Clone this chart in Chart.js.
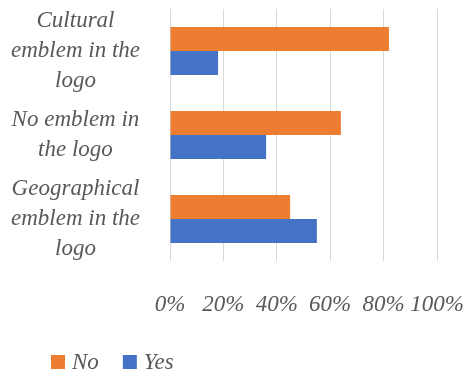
<!DOCTYPE html>
<html>
<head>
<meta charset="utf-8">
<script src="https://cdn.jsdelivr.net/npm/chart.js@4/dist/chart.umd.min.js"></script>
<style>
  html, body { margin: 0; padding: 0; background: #fff; }
  #wrap { width: 469px; height: 376px; }
</style>
</head>
<body>
<div id="wrap"><canvas id="chart" width="469" height="376"></canvas></div>
<script>
const categories = [
  ['Cultural', 'emblem in the', 'logo'],
  ['No emblem in', 'the logo'],
  ['Geographical', 'emblem in the', 'logo']
];
const seriesNames = ['No', 'Yes'];
const noValues = [82, 64, 45];
const yesValues = [18, 36, 55];
const xTicks = [0, 20, 40, 60, 80, 100];

const COLORS = { no: '#ED7D31', yes: '#4472C4', text: '#595959', grid: '#D9D9D9' };
const FONT = { family: 'Liberation Serif', style: 'italic', size: 23 };

// legend drawn by hand so it can sit where the original has it
const bottomLegend = {
  id: 'bottomLegend',
  afterDraw(chart) {
    const { ctx } = chart;
    const y = 362;
    let x = 51;
    ctx.save();
    ctx.font = `italic ${FONT.size}px "${FONT.family}"`;
    ctx.textBaseline = 'middle';
    chart.data.datasets.forEach((ds) => {
      ctx.fillStyle = ds.backgroundColor;
      ctx.fillRect(x, y - 7, 14, 14);
      ctx.fillStyle = COLORS.text;
      ctx.fillText(ds.label, x + 21, y + 1);
      x += 21 + ctx.measureText(ds.label).width + 24;
    });
    ctx.restore();
  }
};

new Chart(document.getElementById('chart'), {
  type: 'bar',
  plugins: [bottomLegend],
  data: {
    labels: categories,
    datasets: [
      { label: seriesNames[0], data: noValues, backgroundColor: COLORS.no },
      { label: seriesNames[1], data: yesValues, backgroundColor: COLORS.yes }
    ]
  },
  options: {
    indexAxis: 'y',
    responsive: false,
    animation: false,
    layout: { padding: { top: 9, right: 32, bottom: 55, left: 0 } },
    datasets: { bar: { categoryPercentage: 0.57, barPercentage: 1.0 } },
    scales: {
      x: {
        min: 0,
        max: 100,
        afterBuildTicks(scale) { scale.ticks = xTicks.map(v => ({ value: v })); },
        afterFit(scale) {
          scale.height = 60;
          scale.paddingLeft = 0;
          scale.paddingRight = 0;
        },
        grid: { color: COLORS.grid, lineWidth: 1, drawTicks: false },
        border: { display: false },
        ticks: {
          autoSkip: false,
          padding: 30,
          color: COLORS.text,
          font: FONT,
          maxRotation: 0,
          callback: (v) => v + '%'
        }
      },
      y: {
        afterFit(scale) {
          scale.width = 170;
          scale.paddingTop = 0;
          scale.paddingBottom = 0;
        },
        grid: { display: false },
        border: { display: false },
        ticks: {
          autoSkip: false,
          color: COLORS.text,
          font: { ...FONT, lineHeight: 1.3 },
          crossAlign: 'center',
          padding: 22
        }
      }
    },
    plugins: {
      legend: { display: false },
      tooltip: { enabled: false }
    }
  }
});
</script>
</body>
</html>
